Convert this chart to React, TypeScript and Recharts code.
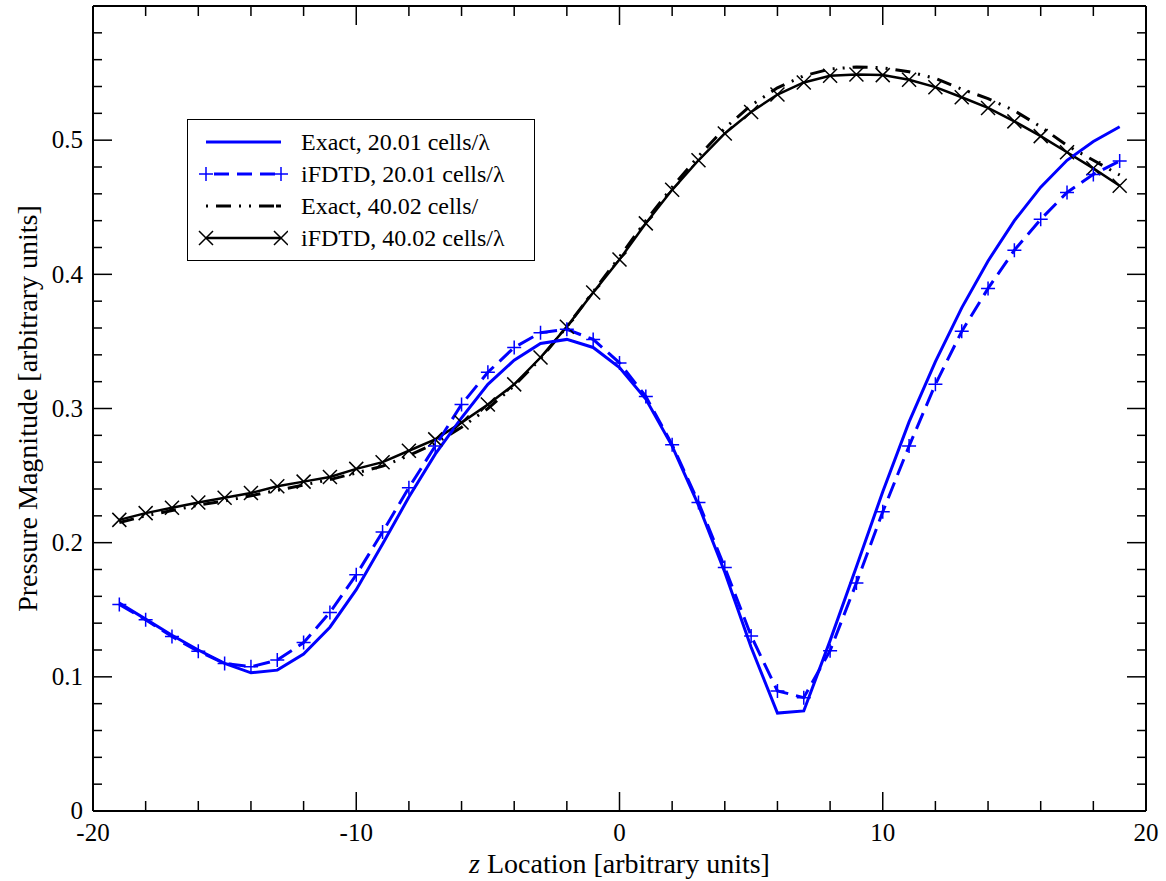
import React from 'react';
import { LineChart, Line, XAxis, YAxis, Legend } from 'recharts';

// z positions where the fields were sampled
const zValues = [
  -19, -18, -17, -16, -15, -14, -13, -12, -11, -10,
  -9, -8, -7, -6, -5, -4, -3, -2, -1, 0,
  1, 2, 3, 4, 5, 6, 7, 8, 9, 10,
  11, 12, 13, 14, 15, 16, 17, 18, 19,
];

const exact20 = [
  0.155, 0.143, 0.131, 0.12, 0.11, 0.103, 0.105, 0.117, 0.137, 0.165,
  0.199, 0.234, 0.266, 0.293, 0.318, 0.336, 0.3485, 0.3515, 0.3455, 0.3305,
  0.307, 0.272, 0.228, 0.178, 0.122, 0.073, 0.0746, 0.127, 0.182, 0.238,
  0.29, 0.335, 0.375, 0.41, 0.44, 0.465, 0.485, 0.499, 0.51,
];

const ifdtd20 = [
  0.154, 0.1425, 0.13, 0.119, 0.11, 0.1075, 0.1125, 0.1255, 0.148, 0.176,
  0.208, 0.241, 0.272, 0.303, 0.327, 0.3455, 0.3565, 0.359, 0.3515, 0.334,
  0.309, 0.273, 0.23, 0.1815, 0.1305, 0.0895, 0.0845, 0.1195, 0.17, 0.223,
  0.272, 0.318, 0.3575, 0.3895, 0.418, 0.441, 0.461, 0.4745, 0.4845,
];

const exact40 = [
  0.215, 0.22, 0.224, 0.228, 0.231, 0.235, 0.239, 0.243, 0.247, 0.252,
  0.257, 0.265, 0.274, 0.286, 0.3, 0.317, 0.337, 0.361, 0.387, 0.413,
  0.44, 0.465, 0.488, 0.509, 0.526, 0.539, 0.548, 0.553, 0.5545, 0.554,
  0.551, 0.546, 0.538, 0.531, 0.522, 0.51, 0.496, 0.485, 0.474,
];

const ifdtd40 = [
  0.217, 0.222, 0.226, 0.23, 0.2335, 0.237, 0.242, 0.2455, 0.249, 0.255,
  0.26, 0.2685, 0.277, 0.2895, 0.303, 0.318, 0.338, 0.361, 0.3865, 0.411,
  0.438, 0.463, 0.485, 0.505, 0.521, 0.534, 0.543, 0.548, 0.549, 0.5485,
  0.545, 0.5395, 0.532, 0.524, 0.514, 0.503, 0.491, 0.479, 0.466,
];

const xTicks = [-20, -18, -16, -14, -12, -10, -8, -6, -4, -2, 0, 2, 4, 6, 8, 10, 12, 14, 16, 18, 20];
const yTicks = [
  0, 0.02, 0.04, 0.06, 0.08, 0.1, 0.12, 0.14, 0.16, 0.18,
  0.2, 0.22, 0.24, 0.26, 0.28, 0.3, 0.32, 0.34, 0.36, 0.38,
  0.4, 0.42, 0.44, 0.46, 0.48, 0.5, 0.52, 0.54, 0.56, 0.58, 0.6,
];

const legendLabels = [
  'Exact, 20.01 cells/λ',
  'iFDTD, 20.01 cells/λ',
  'Exact, 40.02 cells/',
  'iFDTD, 40.02 cells/λ',
];

const rows = zValues.map((z, i) => ({
  z,
  exact20: exact20[i],
  ifdtd20: ifdtd20[i],
  exact40: exact40[i],
  ifdtd40: ifdtd40[i],
}));

const FONT = "'Liberation Serif', 'Times New Roman', Times, 'Nimbus Roman', 'DejaVu Serif', serif";
const BLUE = '#0000ff';
const MAJOR = 19;
const MINOR = 10;
const DASH = '17 8';
const DASH_DOT_DOT = '15 8 2 8 2 8';

const isMajorX = (v: number) => Math.round(v) % 10 === 0;
const isMajorY = (v: number) => Math.round(v * 100) % 10 === 0;

const BottomTick = ({ x, y, payload }: any) => {
  const major = isMajorX(payload.value);
  return (
    <g>
      <line x1={x} y1={y} x2={x} y2={y - (major ? MAJOR : MINOR)} stroke="#000" strokeWidth={1.5} />
      {major && (
        <text x={x} y={y + 30} textAnchor="middle" fontSize={25} style={{ fontFamily: FONT }} fill="#000">
          {payload.value}
        </text>
      )}
    </g>
  );
};

// top axis box is 1px tall, so its line sits at y + 1
const TopTick = ({ x, y, payload }: any) => {
  const major = isMajorX(payload.value);
  if (payload.value === -20 || payload.value === 20) return <g />;
  return <line x1={x} y1={y} x2={x} y2={y + (major ? MAJOR : MINOR)} stroke="#000" strokeWidth={1.5} />;
};

const LeftTick = ({ x, y, payload }: any) => {
  const v = payload.value;
  const major = isMajorY(v);
  if (v >= 0.599) return <g />;
  return (
    <g>
      {v > 0 && <line x1={x} y1={y} x2={x + (major ? MAJOR : MINOR - 1)} y2={y} stroke="#000" strokeWidth={1.5} />}
      {major && (
        <text x={x - 10} y={y} dy="0.33em" textAnchor="end" fontSize={25} style={{ fontFamily: FONT }} fill="#000">
          {v === 0 ? '0' : v.toFixed(1)}
        </text>
      )}
    </g>
  );
};

const RightTick = ({ x, y, payload }: any) => {
  const v = payload.value;
  if (v <= 0.001 || v >= 0.599) return <g />;
  return <line x1={x} y1={y} x2={x - (isMajorY(v) ? MAJOR : MINOR - 1)} y2={y} stroke="#000" strokeWidth={1.5} />;
};

const XTitle = ({ viewBox }: any) => {
  const vb = viewBox || { x: 93, y: 811, width: 1053, height: 41 };
  return (
    <text x={vb.x + vb.width / 2} y={vb.y + 62} textAnchor="middle" fontSize={28} style={{ fontFamily: FONT }} fill="#000">
      <tspan fontStyle="italic">z</tspan> Location [arbitrary units]
    </text>
  );
};

const YTitle = ({ viewBox }: any) => {
  const vb = viewBox || { x: 33, y: 6, width: 60, height: 805 };
  const cx = vb.x - 6;
  const cy = vb.y + vb.height / 2;
  return (
    <text
      x={cx}
      y={cy}
      transform={`rotate(-90 ${cx} ${cy})`}
      textAnchor="middle"
      dominantBaseline="central"
      fontSize={28}
      style={{ fontFamily: FONT }}
      fill="#000"
    >
      Pressure Magnitude [arbitrary units]
    </text>
  );
};

const PlusDot = (props: any) => {
  const { cx, cy, index } = props;
  if (cx == null || cy == null) return <g key={`p${index}`} />;
  return (
    <path
      key={`p${index}`}
      d={`M${cx - 7},${cy}h14M${cx},${cy - 7}v14`}
      stroke={BLUE}
      strokeWidth={1.5}
      fill="none"
    />
  );
};

const CrossDot = (props: any) => {
  const { cx, cy, index } = props;
  if (cx == null || cy == null) return <g key={`c${index}`} />;
  return (
    <path
      key={`c${index}`}
      d={`M${cx - 7},${cy - 7}L${cx + 7},${cy + 7}M${cx - 7},${cy + 7}L${cx + 7},${cy - 7}`}
      stroke="#000"
      strokeWidth={1.5}
      fill="none"
    />
  );
};

// legend line samples, drawn in a tiny svg per row
const sample = (i: number) => {
  const y = 16;
  if (i === 0) return <line x1={18} y1={y} x2={93} y2={y} stroke={BLUE} strokeWidth={3} />;
  if (i === 1)
    return (
      <g>
        <line x1={18} y1={y} x2={93} y2={y} stroke={BLUE} strokeWidth={3} strokeDasharray="15 8" strokeDashoffset={-8} />
        <path d={`M11,${y}h14M18,${y - 7}v14M86,${y}h14M93,${y - 7}v14`} stroke={BLUE} strokeWidth={1.5} />
      </g>
    );
  if (i === 2)
    return <line x1={18} y1={y} x2={93} y2={y} stroke="#000" strokeWidth={3} strokeDasharray="2 8 15 8 2 8 2 8 15" />;
  return (
    <g>
      <line x1={18} y1={y} x2={93} y2={y} stroke="#000" strokeWidth={2.5} />
      <path
        d={`M11,${y - 7}L25,${y + 7}M11,${y + 7}L25,${y - 7}M86,${y - 7}L100,${y + 7}M86,${y + 7}L100,${y - 7}`}
        stroke="#000"
        strokeWidth={1.5}
      />
    </g>
  );
};

const renderLegend = () => (
  <div
    style={{
      border: '1.5px solid #000',
      background: '#fff',
      padding: '6px 0',
      width: 348,
      boxSizing: 'border-box',
      fontFamily: FONT,
      fontSize: 24,
      color: '#000',
    }}
  >
    {legendLabels.map((label, i) => (
      <div key={label} style={{ display: 'flex', alignItems: 'center', height: 32 }}>
        <svg width={100} height={32} style={{ flex: 'none' }}>
          {sample(i)}
        </svg>
        <span style={{ marginLeft: 13, whiteSpace: 'nowrap', lineHeight: '32px' }}>{label}</span>
      </div>
    ))}
  </div>
);

export default function App() {
  return (
    <div style={{ position: 'absolute', left: 0, top: 0, width: 1166, height: 881, background: '#fff', fontFamily: FONT }}>
      <LineChart width={1166} height={881} data={rows} margin={{ top: 5, right: 19, left: 33, bottom: 29 }}>
        <XAxis
          dataKey="z"
          type="number"
          domain={[-20, 20]}
          ticks={xTicks}
          interval={0}
          height={41}
          tickSize={0}
          tickMargin={0}
          tickLine={false}
          axisLine={{ stroke: '#000', strokeWidth: 2 }}
          tick={<BottomTick />}
          label={{ content: <XTitle /> } as any}
        />
        <XAxis
          xAxisId="top"
          dataKey="z"
          orientation="top"
          type="number"
          domain={[-20, 20]}
          allowDataOverflow
          ticks={xTicks}
          interval={0}
          height={1}
          tickSize={0}
          tickMargin={0}
          tickLine={false}
          axisLine={{ stroke: '#000', strokeWidth: 2 }}
          tick={<TopTick />}
        />
        <YAxis
          type="number"
          domain={[0, 0.6]}
          ticks={yTicks}
          interval={0}
          width={60}
          tickSize={0}
          tickMargin={0}
          tickLine={false}
          axisLine={{ stroke: '#000', strokeWidth: 2 }}
          tick={<LeftTick />}
          label={{ content: <YTitle /> } as any}
        />
        <YAxis
          yAxisId="right"
          orientation="right"
          type="number"
          domain={[0, 0.6]}
          allowDataOverflow
          ticks={yTicks}
          interval={0}
          width={1}
          tickSize={0}
          tickMargin={0}
          tickLine={false}
          axisLine={{ stroke: '#000', strokeWidth: 2 }}
          tick={<RightTick />}
        />
        {/* plotted on the mirrored top/right axes (same domains) so those axes get drawn too */}
        <Line
          xAxisId="top"
          yAxisId="right"
          type="linear"
          dataKey="exact40"
          stroke="#000"
          strokeWidth={3}
          strokeDasharray={DASH_DOT_DOT}
          dot={false}
          isAnimationActive={false}
        />
        <Line
          type="linear"
          dataKey="ifdtd40"
          stroke="#000"
          strokeWidth={2.5}
          dot={CrossDot}
          isAnimationActive={false}
        />
        <Line
          type="linear"
          dataKey="exact20"
          stroke={BLUE}
          strokeWidth={3}
          dot={false}
          isAnimationActive={false}
        />
        <Line
          type="linear"
          dataKey="ifdtd20"
          stroke={BLUE}
          strokeWidth={3}
          strokeDasharray={DASH}
          dot={PlusDot}
          isAnimationActive={false}
        />
        <Legend
          layout="vertical"
          align="center"
          verticalAlign="middle"
          content={renderLegend}
          wrapperStyle={{ left: 187, top: 119, width: 350 }}
        />
      </LineChart>
    </div>
  );
}
